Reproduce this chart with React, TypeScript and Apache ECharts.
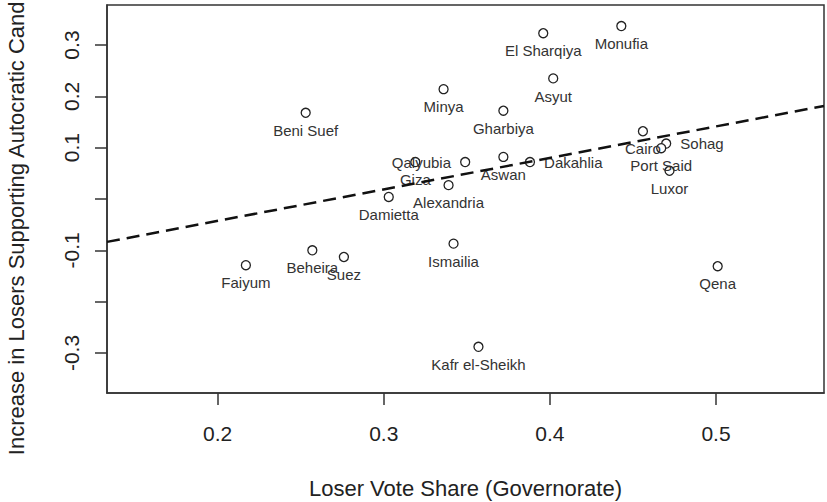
import React, { useEffect, useRef } from "react";
import * as echarts from "echarts";

// Governorate data
const governorates = [
  "Beni Suef", "Damietta", "Giza", "Qalyubia", "Alexandria", "Aswan", "Dakahlia",
  "Minya", "Gharbiya", "Asyut", "El Sharqiya", "Monufia", "Cairo", "Sohag",
  "Port Said", "Luxor", "Ismailia", "Qena", "Kafr el-Sheikh", "Faiyum", "Beheira", "Suez",
];
const loserVoteShare = [
  0.253, 0.303, 0.319, 0.349, 0.339, 0.372, 0.388,
  0.336, 0.372, 0.402, 0.396, 0.443, 0.456, 0.470,
  0.467, 0.472, 0.342, 0.501, 0.357, 0.217, 0.257, 0.276,
];
const increaseInLosers = [
  0.168, 0.004, 0.072, 0.072, 0.027, 0.082, 0.072,
  0.214, 0.172, 0.235, 0.323, 0.337, 0.132, 0.108,
  0.099, 0.055, -0.087, -0.131, -0.288, -0.129, -0.100, -0.113,
];

const xTickValues = [0.2, 0.3, 0.4, 0.5];
const yTickValues = [-0.3, -0.2, -0.1, 0, 0.1, 0.2, 0.3];
const yTickLabels = [-0.3, -0.1, 0.1, 0.2, 0.3];

const xTitle = "Loser Vote Share (Governorate)";
const yTitle = "Increase in Losers Supporting Autocratic Candidates";

const X_MIN = 0.1334;
const X_MAX = 0.565;
const Y_MIN = -0.378;
const Y_MAX = 0.378;

function olsFit(xs: number[], ys: number[]) {
  const n = xs.length;
  const mx = xs.reduce((a, b) => a + b, 0) / n;
  const my = ys.reduce((a, b) => a + b, 0) / n;
  let sxy = 0;
  let sxx = 0;
  for (let i = 0; i < n; i++) {
    sxy += (xs[i] - mx) * (ys[i] - my);
    sxx += (xs[i] - mx) * (xs[i] - mx);
  }
  const slope = sxy / sxx;
  return { slope, intercept: my - slope * mx };
}

const labelSide: Record<string, string> = {
  Qalyubia: "left",
  Dakahlia: "right",
  Sohag: "right",
};

export default function App() {
  const ref = useRef<HTMLDivElement>(null);

  useEffect(() => {
    if (!ref.current) return;
    const chart = echarts.init(ref.current, null, { renderer: "svg" });
    const font = "'Liberation Sans', Arial, Helvetica, sans-serif";
    const fit = olsFit(loserVoteShare, increaseInLosers);

    const points = governorates.map((name, i) => {
      const side = labelSide[name] || "bottom";
      return {
        name,
        value: [loserVoteShare[i], increaseInLosers[i]],
        label: { position: side, distance: side === "bottom" ? 5 : 9 },
      };
    });

    chart.setOption({
      animation: false,
      backgroundColor: "#ffffff",
      grid: {
        left: 107,
        right: 3,
        top: 5,
        bottom: 109,
        containLabel: false,
        outerBoundsMode: "none",
        show: true,
        borderColor: "#333",
        borderWidth: 1.5,
        backgroundColor: "transparent",
      },
      xAxis: {
        type: "value",
        min: X_MIN,
        max: X_MAX,
        name: xTitle,
        nameLocation: "middle",
        nameGap: 84,
        nameTextStyle: { fontFamily: font, fontSize: 22, color: "#222" },
        splitLine: { show: false },
        axisLine: { show: true, onZero: false, lineStyle: { color: "#333", width: 1.5 } },
        axisTick: {
          show: true,
          length: 12,
          customValues: xTickValues,
          lineStyle: { color: "#333", width: 1.5 },
        },
        axisLabel: {
          customValues: xTickValues,
          margin: 30,
          fontFamily: font,
          fontSize: 21,
          color: "#222",
          formatter: (v: number) => String(v),
        },
      },
      yAxis: {
        type: "value",
        min: Y_MIN,
        max: Y_MAX,
        name: yTitle,
        nameLocation: "middle",
        nameGap: 80,
        nameTextStyle: { fontFamily: font, fontSize: 22, color: "#222" },
        splitLine: { show: false },
        axisLine: { show: true, onZero: false, lineStyle: { color: "#333", width: 1.5 } },
        axisTick: {
          show: true,
          length: 12,
          customValues: yTickValues,
          lineStyle: { color: "#333", width: 1.5 },
        },
        axisLabel: {
          customValues: yTickLabels,
          rotate: 90,
          margin: 25,
          fontFamily: font,
          fontSize: 21,
          color: "#222",
          formatter: (v: number) => String(v),
        },
      },
      series: [
        {
          type: "scatter",
          data: points,
          symbol: "circle",
          symbolSize: 9,
          itemStyle: { color: "#ffffff", borderColor: "#222", borderWidth: 1.3, opacity: 1 },
          label: {
            show: true,
            formatter: "{b}",
            fontFamily: font,
            fontSize: 15,
            color: "#333",
          },
          labelLayout: { hideOverlap: false },
          z: 2,
        },
        {
          type: "line",
          data: [
            [X_MIN, fit.intercept + fit.slope * X_MIN],
            [X_MAX, fit.intercept + fit.slope * X_MAX],
          ],
          symbol: "none",
          lineStyle: { color: "#111", width: 2.5, type: [13, 7] },
          silent: true,
          z: 3,
        },
      ],
    });

    return () => chart.dispose();
  }, []);

  return (
    <div
      ref={ref}
      style={{ position: "absolute", left: 0, top: 0, width: 827, height: 502 }}
    />
  );
}
